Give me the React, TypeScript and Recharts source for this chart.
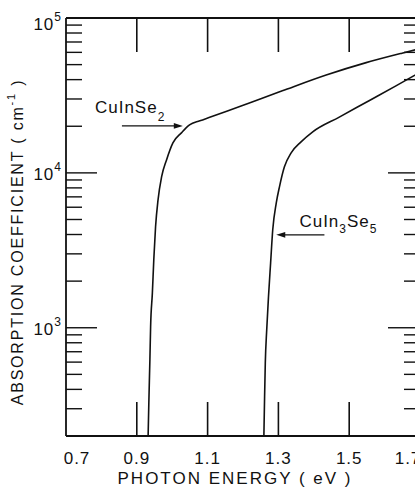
import React from 'react';
import { LineChart, Line, XAxis, YAxis, ReferenceLine } from 'recharts';

// absorption curves (photon energy in eV, alpha in cm^-1)
const cuInSe2Energy = [
  0.932, 0.934, 0.937, 0.939, 0.944, 0.948, 0.953, 0.96, 0.97, 0.984, 1.002, 1.026, 1.049, 1.078, 1.106,
  1.156, 1.218, 1.311, 1.435, 1.548, 1.649, 1.7,
];
const cuInSe2Alpha = [
  200, 328, 622, 1010, 1680, 2750, 4490, 6700, 9420, 12130, 15630, 18130, 20400, 21680, 22860,
  25120, 28310, 33880, 42850, 51520, 59290, 63390,
];

const cuIn3Se5Energy = [
  1.259, 1.261, 1.263, 1.267, 1.272, 1.278, 1.284, 1.294, 1.303, 1.317, 1.336, 1.364, 1.397,
  1.472, 1.556, 1.632, 1.677, 1.7,
];
const cuIn3Se5Alpha = [
  200, 359, 594, 970, 1585, 2620, 4290, 6400, 8130, 10940, 13460, 15850, 18400,
  22910, 29240, 36480, 41690, 44670,
];

const energyTicks = [0.7, 0.9, 1.1, 1.3, 1.5, 1.7];
const alphaTicks = [
  200, 300, 400, 500, 600, 700, 800, 900, 1000,
  2000, 3000, 4000, 5000, 6000, 7000, 8000, 9000, 10000,
  20000, 30000, 40000, 50000, 60000, 70000, 80000, 90000, 100000,
];
const alphaDecades = [1000, 10000, 100000];

const energyDomain = [0.7, 1.7];
const alphaDomain = [200, 100000];

// arrow annotations: [tail energy, tip energy, alpha]
const cuInSe2Arrow = [0.858, 1.03, 20100];
const cuIn3Se5Arrow = [1.43, 1.294, 3980];

const cuInSe2Data = cuInSe2Energy.map((e, i) => ({ e, a: cuInSe2Alpha[i] }));
const cuIn3Se5Data = cuIn3Se5Energy.map((e, i) => ({ e, a: cuIn3Se5Alpha[i] }));

const INK = '#111';
const FONT = "'Liberation Sans', Arial, Helvetica, sans-serif";

const isInner = (v: number) => v > energyDomain[0] && v < energyDomain[1];

const LeftTick = (props: any) => {
  const { x, y, payload } = props;
  const v = payload.value;
  const major = alphaDecades.includes(v);
  const exp = Math.round(Math.log10(v));
  const len = major ? 31 : 16;
  const top = v === alphaDomain[1];
  return (
    <g>
      {!top && v !== alphaDomain[0] && (
        <line x1={x} x2={x + len} y1={y} y2={y} stroke={INK} strokeWidth={1.4} />
      )}
      {major && (
        <text x={x - 4} y={y + (top ? 12 : 7)} textAnchor="end" fill={INK} fontFamily={FONT} fontSize={17} letterSpacing={1}>
          <tspan>10</tspan>
          <tspan dy={-9} fontSize={12}>{exp}</tspan>
        </text>
      )}
    </g>
  );
};

const RightTick = (props: any) => {
  const { x, y, payload } = props;
  const v = payload.value;
  if (v === alphaDomain[0] || v === alphaDomain[1]) return <g />;
  const len = alphaDecades.includes(v) ? 32 : 16;
  return <line x1={x} x2={x - len} y1={y} y2={y} stroke={INK} strokeWidth={1.4} />;
};

const BottomTick = (props: any) => {
  const { x, y, payload } = props;
  const v = payload.value;
  const dx = v === energyDomain[0] ? 11 : v === energyDomain[1] ? -12 : 0;
  return (
    <g>
      {isInner(v) && <line x1={x} x2={x} y1={y} y2={y - 34} stroke={INK} strokeWidth={1.6} />}
      <text x={x + dx} y={y + 28} textAnchor="middle" fill={INK} fontFamily={FONT} fontSize={17} letterSpacing={1}>
        {v.toFixed(1)}
      </text>
    </g>
  );
};

const TopTick = (props: any) => {
  const { x, y, payload } = props;
  if (!isInner(payload.value)) return <g />;
  return <line x1={x} x2={x} y1={y} y2={y + 34} stroke={INK} strokeWidth={1.6} />;
};

const YLabel = (props: any) => {
  const vb = props.viewBox || { x: 0, y: 18 };
  const cx = vb.x + 17;
  const cy = vb.y + 224;
  return (
    <text x={cx} y={cy} transform={`rotate(-90, ${cx}, ${cy})`} textAnchor="middle" dominantBaseline="central"
      fill={INK} fontFamily={FONT} fontSize={16} letterSpacing={1.8}>
      <tspan>ABSORPTION COEFFICIENT ( cm</tspan>
      <tspan dy={-6} fontSize={11}>-1</tspan>
      <tspan dy={6}> )</tspan>
    </text>
  );
};

const XLabel = (props: any) => {
  const vb = props.viewBox || { x: 66, y: 436 };
  return (
    <text x={vb.x + 169} y={vb.y + 48} textAnchor="middle" fill={INK} fontFamily={FONT} fontSize={17} letterSpacing={2}>
      PHOTON ENERGY ( eV )
    </text>
  );
};

const arrowShape = (label: React.ReactNode, tx: number, ty: number) => (p: any) => {
  const { x1, y1, x2, y2 } = p;
  const d = x2 > x1 ? 1 : -1;
  return (
    <g>
      <line x1={x1} y1={y1} x2={x2 - d * 6} y2={y2} stroke={INK} strokeWidth={1.1} />
      <polygon points={`${x2},${y2} ${x2 - d * 9},${y2 - 2.8} ${x2 - d * 9},${y2 + 2.8}`} fill={INK} />
      <text x={x1 + tx} y={y1 + ty} fill={INK} fontFamily={FONT} fontSize={17} letterSpacing={1}>
        {label}
      </text>
    </g>
  );
};

export default function App() {
  return (
    <div style={{ position: 'absolute', left: 0, top: 0, width: 415, height: 493, overflow: 'hidden', background: '#fff' }}>
      <LineChart width={440} height={493} margin={{ top: 0, right: 0, bottom: 0, left: 0 }}>
        <XAxis
          xAxisId="bottom"
          dataKey="e"
          type="number"
          domain={energyDomain}
          allowDataOverflow
          ticks={energyTicks}
          interval={0}
          height={57}
          tickSize={0}
          tickMargin={0}
          tickLine={false}
          axisLine={{ stroke: INK, strokeWidth: 1.8 }}
          tick={<BottomTick />}
          label={{ content: <XLabel /> }}
        />
        <XAxis
          xAxisId="top"
          orientation="top"
          dataKey="e"
          type="number"
          domain={energyDomain}
          allowDataOverflow
          ticks={energyTicks}
          interval={0}
          height={18}
          tickSize={0}
          tickMargin={0}
          tickLine={false}
          axisLine={{ stroke: INK, strokeWidth: 1.8 }}
          tick={<TopTick />}
        />
        <YAxis
          yAxisId="left"
          type="number"
          scale="log"
          domain={alphaDomain}
          allowDataOverflow
          ticks={alphaTicks}
          interval={0}
          width={66}
          tickSize={0}
          tickMargin={0}
          tickLine={false}
          axisLine={{ stroke: INK, strokeWidth: 1.8 }}
          tick={<LeftTick />}
          label={{ content: <YLabel /> }}
        />
        <YAxis
          yAxisId="right"
          orientation="right"
          type="number"
          scale="log"
          domain={alphaDomain}
          allowDataOverflow
          ticks={alphaTicks}
          interval={0}
          width={20}
          tickSize={0}
          tickMargin={0}
          tickLine={false}
          axisLine={{ stroke: INK, strokeWidth: 1.8 }}
          tick={<RightTick />}
        />
        <Line
          xAxisId="bottom"
          yAxisId="left"
          data={cuInSe2Data}
          dataKey="a"
          type="monotone"
          stroke={INK}
          strokeWidth={1.6}
          dot={false}
          isAnimationActive={false}
        />
        <Line
          xAxisId="bottom"
          yAxisId="left"
          data={cuIn3Se5Data}
          dataKey="a"
          type="monotone"
          stroke={INK}
          strokeWidth={1.6}
          dot={false}
          isAnimationActive={false}
        />
        <ReferenceLine
          xAxisId="bottom"
          yAxisId="left"
          segment={[{ x: cuInSe2Arrow[0], y: cuInSe2Arrow[2] }, { x: cuInSe2Arrow[1], y: cuInSe2Arrow[2] }]}
          shape={arrowShape(<><tspan>CuInSe</tspan><tspan dy={8} fontSize={12}>2</tspan></>, -27, -13)}
        />
        <ReferenceLine
          xAxisId="bottom"
          yAxisId="left"
          segment={[{ x: cuIn3Se5Arrow[0], y: cuIn3Se5Arrow[2] }, { x: cuIn3Se5Arrow[1], y: cuIn3Se5Arrow[2] }]}
          shape={arrowShape(
            <>
              <tspan>CuIn</tspan>
              <tspan dy={6} fontSize={12}>3</tspan>
              <tspan dy={-6}>Se</tspan>
              <tspan dy={6} fontSize={12}>5</tspan>
            </>,
            -25,
            -8,
          )}
        />
      </LineChart>
    </div>
  );
}
